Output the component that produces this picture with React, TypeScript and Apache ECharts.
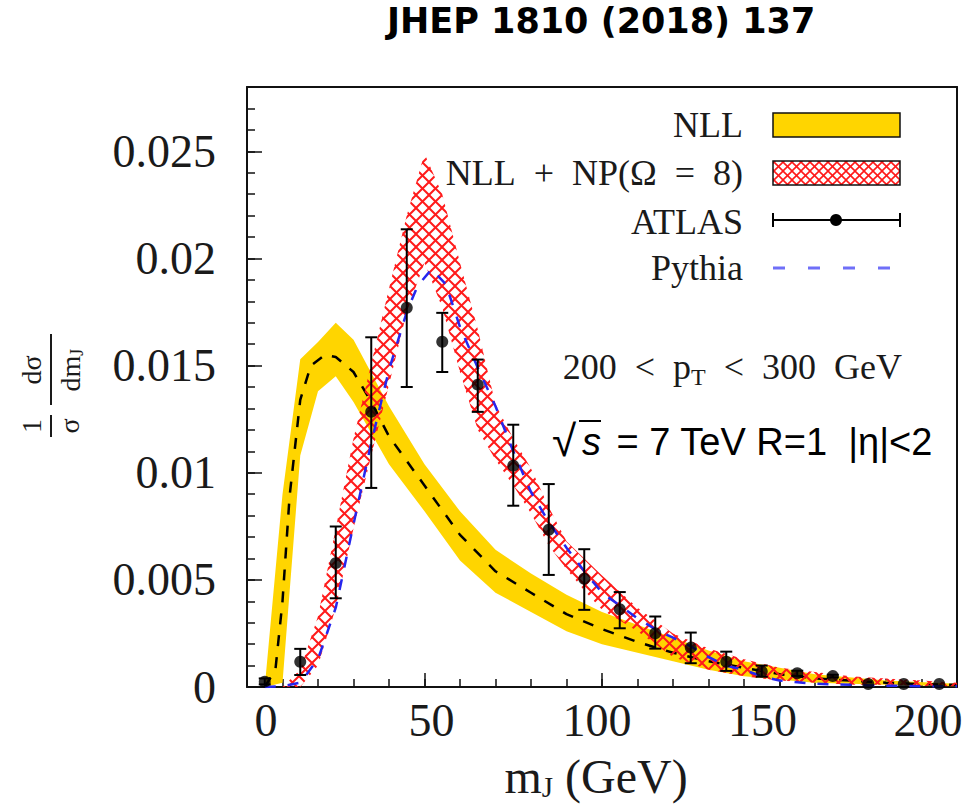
import React, { useEffect, useRef } from "react";
import * as echarts from "echarts";

// ---------- data ----------
const atlasM = [5, 15, 25, 35, 45, 55, 65, 75, 85, 95, 105, 115, 125, 135, 145, 155, 165, 175, 185, 195];
const atlasV = [0.00025, 0.00118, 0.00578, 0.01284, 0.0177, 0.01611, 0.01411, 0.01033, 0.00734, 0.00505, 0.00363, 0.00251, 0.00184, 0.00118, 0.00072, 0.00064, 0.00051, 0.00014, 0.00014, 0.00014];
const atlasLo = [0.00012, 0.00056, 0.00414, 0.00929, 0.014, 0.0147, 0.01284, 0.00846, 0.00523, 0.0036, 0.00274, 0.00179, 0.00111, 0.00075, 0.00048, 0.00052, 0.00045, 0.00014, 0.00014, 0.00014];
const atlasHi = [0.0004, 0.00178, 0.00749, 0.01632, 0.02136, 0.01746, 0.01528, 0.01224, 0.00947, 0.00643, 0.00443, 0.00329, 0.00254, 0.00165, 0.001, 0.00076, 0.00057, 0.00014, 0.00014, 0.00014];

const nllBandM = [5, 10, 15, 20, 25, 30, 40, 50, 60, 70, 80, 90, 100, 120, 130, 140, 160, 180, 200];
const nllBandLo = [0, 0.0002, 0.0108, 0.0138, 0.0145, 0.0133, 0.0104, 0.0082, 0.0059, 0.0044, 0.0035, 0.0026, 0.002, 0.0012, 0.0008, 0.0005, 0.0002, 0.0001, 0.00003];
const nllBandHi = [0, 0.009, 0.0153, 0.0161, 0.017, 0.0162, 0.0131, 0.0104, 0.0082, 0.0064, 0.0053, 0.0043, 0.0035, 0.0023, 0.0017, 0.0012, 0.0006, 0.0003, 0.00015];

const nllCenterM = [5, 8, 10, 12, 15, 18, 22, 25, 30, 35, 40, 50, 60, 70, 80, 90, 100, 110, 120, 130, 140, 150, 160, 170, 180, 190, 200];
const nllCenterV = [0, 0.0008, 0.004, 0.0089, 0.0134, 0.015, 0.0155, 0.0154, 0.0147, 0.0133, 0.0117, 0.0094, 0.0071, 0.0054, 0.0044, 0.0034, 0.0027, 0.0021, 0.0016, 0.0012, 0.0009, 0.0006, 0.0004, 0.0003, 0.0002, 0.00013, 0.0001];

const npM = [10, 15, 20, 25, 30, 35, 40, 45, 50, 55, 60, 65, 70, 75, 80, 85, 90, 95, 100, 110, 120, 130, 140, 150, 160, 170, 180, 190, 200];
const npHi = [0, 0.0008, 0.0033, 0.0074, 0.0116, 0.0151, 0.0186, 0.022, 0.0249, 0.023, 0.0198, 0.0167, 0.0132, 0.0116, 0.0102, 0.0084, 0.0068, 0.006, 0.0052, 0.0037, 0.0025, 0.0018, 0.0013, 0.0009, 0.0007, 0.0005, 0.0004, 0.0003, 0.0002];
const npLo = [0, 0, 0.001, 0.0037, 0.0074, 0.0108, 0.0141, 0.0175, 0.0198, 0.0177, 0.0147, 0.012, 0.0106, 0.0094, 0.0081, 0.0066, 0.0055, 0.0045, 0.0036, 0.0026, 0.0014, 0.0008, 0.0005, 0.0003, 0.0002, 0.0001, 0.0001, 0.00005, 0.00003];

const pythiaM = [5, 10, 15, 20, 25, 30, 35, 40, 45, 48, 52, 56, 60, 65, 70, 75, 80, 85, 90, 95, 100, 105, 110, 115, 120, 125, 130, 135, 140, 145, 150, 160, 170, 180, 190, 200];
const pythiaV = [0, 0.00003, 0.0002, 0.0013, 0.0037, 0.0076, 0.0114, 0.0148, 0.0175, 0.0187, 0.0195, 0.0188, 0.0168, 0.0149, 0.0131, 0.011, 0.0091, 0.0077, 0.0065, 0.0054, 0.0044, 0.0038, 0.0032, 0.0027, 0.0023, 0.0019, 0.0014, 0.001, 0.0008, 0.0005, 0.0003, 0.00015, 0.0001, 0.00006, 0.00004, 0.00003];

const xMajorTicks = [0, 50, 100, 150, 200];
const yMajorTicks = [0, 0.005, 0.01, 0.015, 0.02, 0.025];

const titleText = "JHEP 1810 (2018) 137";
const legendNames = ["NLL", "NLL\u2002+\u2002NP(\u03A9\u2002=\u20028)", "ATLAS", "Pythia"];

const SERIF = '"Liberation Serif", "DejaVu Serif", serif';
const SANS = '"Liberation Sans", Arial, sans-serif';
const INK = "#1a1a1a";
const GOLD = "#FFD500";
const FRAME = "#111";

function makeHatch(size: number, width: number) {
  const c = document.createElement("canvas");
  c.width = size;
  c.height = size;
  const ctx = c.getContext("2d")!;
  ctx.strokeStyle = "#ff1a1a";
  ctx.lineWidth = width;
  for (const o of [-size, 0, size]) {
    ctx.beginPath();
    ctx.moveTo(o, 0);
    ctx.lineTo(o + size, size);
    ctx.stroke();
    ctx.beginPath();
    ctx.moveTo(o + size, 0);
    ctx.lineTo(o, size);
    ctx.stroke();
  }
  return { image: c, repeat: "repeat", imageWidth: size, imageHeight: size };
}

function bandRenderer(ms: number[], lo: number[], hi: number[], fill: any) {
  return (_params: any, api: any) => {
    const pts: number[][] = [];
    for (let i = 0; i < ms.length; i++) pts.push(api.coord([ms[i], hi[i]]));
    for (let i = ms.length - 1; i >= 0; i--) pts.push(api.coord([ms[i], lo[i]]));
    return { type: "polygon", shape: { points: pts }, style: { fill, stroke: null } };
  };
}

const hiddenAxisBits = {
  splitLine: { show: false },
  axisLabel: { show: false },
};

export default function App() {
  const ref = useRef<HTMLDivElement>(null);

  useEffect(() => {
    if (!ref.current) return;
    const chart = echarts.init(ref.current, null, { renderer: "svg" });
    const hatchPlot = makeHatch(13, 2);
    const hatchLegend = makeHatch(9, 1.6);

    const option: any = {
      animation: false,
      backgroundColor: "#fff",
      textStyle: { fontFamily: SERIF, color: INK },
      title: {
        text: titleText,
        left: 387,
        top: 3,
        padding: 0,
        textStyle: { fontFamily: '"DejaVu Sans", sans-serif', fontWeight: "bold", fontSize: 35, color: "#000" },
      },
      grid: {
        left: 247,
        top: 87,
        width: 710,
        height: 600,
        outerBoundsMode: "none",
        containLabel: false,
      },
      xAxis: [
        {
          type: "value", min: 0, max: 200, interval: 10, position: "bottom",
          ...hiddenAxisBits,
          axisLine: { show: true, onZero: false, lineStyle: { color: FRAME, width: 2 } },
          axisTick: { inside: true, length: 8, lineStyle: { color: FRAME, width: 1.5 } },
        },
        {
          type: "value", min: 0, max: 200, position: "bottom",
          ...hiddenAxisBits,
          axisLine: { show: false },
          axisTick: { inside: true, length: 14, customValues: xMajorTicks, lineStyle: { color: FRAME, width: 1.5 } },
        },
        {
          type: "value", min: -5.74, max: 208.8, position: "bottom",
          splitLine: { show: false },
          axisLine: { show: false },
          axisTick: { show: false },
          axisLabel: {
            customValues: xMajorTicks, fontSize: 46, fontFamily: SERIF, color: INK, margin: 10,
          },
          name: "m{s|J} (GeV)",
          nameLocation: "middle",
          nameGap: 64,
          nameTextStyle: {
            fontSize: 48, fontFamily: SERIF, color: INK, lineHeight: 50, padding: [0, 12, 0, 0],
            rich: { s: { fontSize: 29, fontFamily: SERIF, color: INK, lineHeight: 16, verticalAlign: "bottom" } },
          },
        },
        {
          type: "value", min: 0, max: 200, position: "top",
          ...hiddenAxisBits,
          axisLine: { show: true, onZero: false, lineStyle: { color: FRAME, width: 2 } },
          axisTick: { show: false },
        },
      ],
      yAxis: [
        {
          type: "value", min: 0, max: 0.028, interval: 0.001, position: "left",
          ...hiddenAxisBits,
          axisLine: { show: true, onZero: false, lineStyle: { color: FRAME, width: 2 } },
          axisTick: { inside: true, length: 8, lineStyle: { color: FRAME, width: 1.5 } },
        },
        {
          type: "value", min: 0, max: 0.028, position: "left",
          splitLine: { show: false },
          axisLine: { show: false },
          axisTick: { inside: true, length: 15, customValues: yMajorTicks, lineStyle: { color: FRAME, width: 1.5 } },
          axisLabel: {
            customValues: yMajorTicks, fontSize: 46, fontFamily: SERIF, color: INK, margin: 31,
            formatter: (v: number) => (v === 0 ? "0" : String(+v.toFixed(4))),
          },
        },
        {
          type: "value", min: 0, max: 0.028, position: "right",
          ...hiddenAxisBits,
          axisLine: { show: true, onZero: false, lineStyle: { color: FRAME, width: 2 } },
          axisTick: { show: false },
        },
      ],
      series: [
        {
          name: "NLL",
          type: "custom",
          xAxisIndex: 0, yAxisIndex: 0,
          renderItem: bandRenderer(nllBandM, nllBandLo, nllBandHi, GOLD),
          data: [[0, 0]],
          silent: true,
          z: 1,
        },
        {
          name: "NLL central",
          type: "line",
          xAxisIndex: 0, yAxisIndex: 0,
          data: nllCenterM.map((m, i) => [m, nllCenterV[i]]),
          showSymbol: false,
          lineStyle: { color: "#000", width: 2.5, type: [11, 11] },
          z: 2,
        },
        {
          name: "NLL + NP",
          type: "custom",
          xAxisIndex: 0, yAxisIndex: 0,
          renderItem: bandRenderer(npM, npLo, npHi, hatchPlot),
          data: [[0, 0]],
          silent: true,
          z: 3,
        },
        {
          name: "Pythia",
          type: "line",
          xAxisIndex: 0, yAxisIndex: 0,
          data: pythiaM.map((m, i) => [m, pythiaV[i]]),
          showSymbol: false,
          lineStyle: { color: "#2626ee", width: 2.5, type: [11, 12] },
          z: 4,
        },
        {
          name: "ATLAS errors",
          type: "custom",
          xAxisIndex: 0, yAxisIndex: 0,
          data: atlasM.map((m, i) => [m, atlasV[i], atlasLo[i], atlasHi[i]]),
          encode: { x: 0, y: [2, 3] },
          renderItem: (_p: any, api: any) => {
            const m = api.value(0);
            const lo = api.value(2);
            const hi = api.value(3);
            if (hi - lo < 1e-6) return null;
            const t = api.coord([m, hi]);
            const b = api.coord([m, lo]);
            const w = 6;
            const st = { stroke: "#000", lineWidth: 2 };
            return {
              type: "group",
              children: [
                { type: "line", shape: { x1: t[0], y1: t[1], x2: b[0], y2: b[1] }, style: st },
                { type: "line", shape: { x1: t[0] - w, y1: t[1], x2: t[0] + w, y2: t[1] }, style: st },
                { type: "line", shape: { x1: b[0] - w, y1: b[1], x2: b[0] + w, y2: b[1] }, style: st },
              ],
            };
          },
          z: 5,
        },
        {
          name: "ATLAS",
          type: "scatter",
          xAxisIndex: 0, yAxisIndex: 0,
          data: atlasM.map((m, i) => [m, atlasV[i]]),
          symbol: "circle",
          symbolSize: 12,
          itemStyle: { color: "#000" },
          z: 6,
        },
      ],
      graphic: [
        // legend
        { type: "text", x: 743, y: 125, style: { text: legendNames[0], fontSize: 36, fontFamily: SERIF, fill: INK, align: "right", verticalAlign: "middle" } },
        { type: "rect", shape: { x: 773, y: 113, width: 127, height: 24 }, style: { fill: GOLD, stroke: "#111", lineWidth: 1.5 } },
        { type: "text", x: 743, y: 173, style: { text: legendNames[1], fontSize: 36, fontFamily: SERIF, fill: INK, align: "right", verticalAlign: "middle" } },
        { type: "rect", shape: { x: 773, y: 161, width: 127, height: 24 }, style: { fill: hatchLegend, stroke: "#111", lineWidth: 1.5 } },
        { type: "text", x: 743, y: 222, style: { text: legendNames[2], fontSize: 36, fontFamily: SERIF, fill: INK, align: "right", verticalAlign: "middle" } },
        { type: "line", shape: { x1: 773, y1: 220, x2: 900, y2: 220 }, style: { stroke: "#000", lineWidth: 2 } },
        { type: "line", shape: { x1: 773, y1: 213, x2: 773, y2: 227 }, style: { stroke: "#000", lineWidth: 2 } },
        { type: "line", shape: { x1: 900, y1: 213, x2: 900, y2: 227 }, style: { stroke: "#000", lineWidth: 2 } },
        { type: "circle", shape: { cx: 836, cy: 220, r: 6 }, style: { fill: "#000" } },
        { type: "text", x: 743, y: 268, style: { text: legendNames[3], fontSize: 36, fontFamily: SERIF, fill: INK, align: "right", verticalAlign: "middle" } },
        { type: "line", shape: { x1: 773, y1: 268, x2: 893, y2: 268 }, style: { stroke: "#6f6ff8", lineWidth: 3, lineDash: [12, 23] } },
        // kinematic range
        {
          type: "text", x: 902, y: 367,
          style: {
            text: "200\u2002<\u2002p{s|T}\u2002<\u2002300\u2002GeV",
            fontSize: 36, fontFamily: SERIF, fill: INK, align: "right", verticalAlign: "middle", lineHeight: 44,
            rich: { s: { fontSize: 24, fontFamily: SERIF, fill: INK, lineHeight: 22, verticalAlign: "bottom" } },
          },
        },
        // sqrt(s) annotation
        { type: "text", x: 552, y: 440, style: { text: "\u221A", fontSize: 44, fontFamily: SANS, fill: "#000", align: "left", verticalAlign: "middle" } },
        { type: "line", shape: { x1: 579, y1: 421, x2: 601, y2: 421 }, style: { stroke: "#000", lineWidth: 2 } },
        { type: "text", x: 582, y: 442, style: { text: "s", fontSize: 38, fontStyle: "italic", fontFamily: SANS, fill: "#000", align: "left", verticalAlign: "middle" } },
        { type: "text", x: 606, y: 442, style: { text: " = 7 TeV R=1  |\u03B7|<2", fontSize: 38, fontFamily: SANS, fill: "#000", align: "left", verticalAlign: "middle" } },
        // y-axis title (rotated fraction)
        {
          type: "group", x: 51, y: 438, rotation: Math.PI / 2,
          children: [
            { type: "line", shape: { x1: 1, y1: 0, x2: 23, y2: 0 }, style: { stroke: INK, lineWidth: 2 } },
            { type: "text", x: 12, y: -20, style: { text: "1", fontSize: 28, fontFamily: SERIF, fill: INK, align: "center", verticalAlign: "middle" } },
            { type: "text", x: 12, y: 18, style: { text: "\u03C3", fontSize: 28, fontFamily: SERIF, fill: INK, align: "center", verticalAlign: "middle" } },
            { type: "line", shape: { x1: 33, y1: 0, x2: 104, y2: 0 }, style: { stroke: INK, lineWidth: 2 } },
            { type: "text", x: 68, y: -20, style: { text: "d\u03C3", fontSize: 28, fontFamily: SERIF, fill: INK, align: "center", verticalAlign: "middle" } },
            {
              type: "text", x: 68, y: 19,
              style: {
                text: "dm{s|J}", fontSize: 28, fontFamily: SERIF, fill: INK, align: "center", verticalAlign: "middle", lineHeight: 32,
                rich: { s: { fontSize: 18, fontFamily: SERIF, fill: INK, lineHeight: 18, verticalAlign: "bottom" } },
              },
            },
          ],
        },
      ],
    };

    chart.setOption(option);
    return () => chart.dispose();
  }, []);

  return (
    <div
      ref={ref}
      style={{ position: "fixed", left: 0, top: 0, width: 965, height: 808, background: "#fff" }}
    />
  );
}
